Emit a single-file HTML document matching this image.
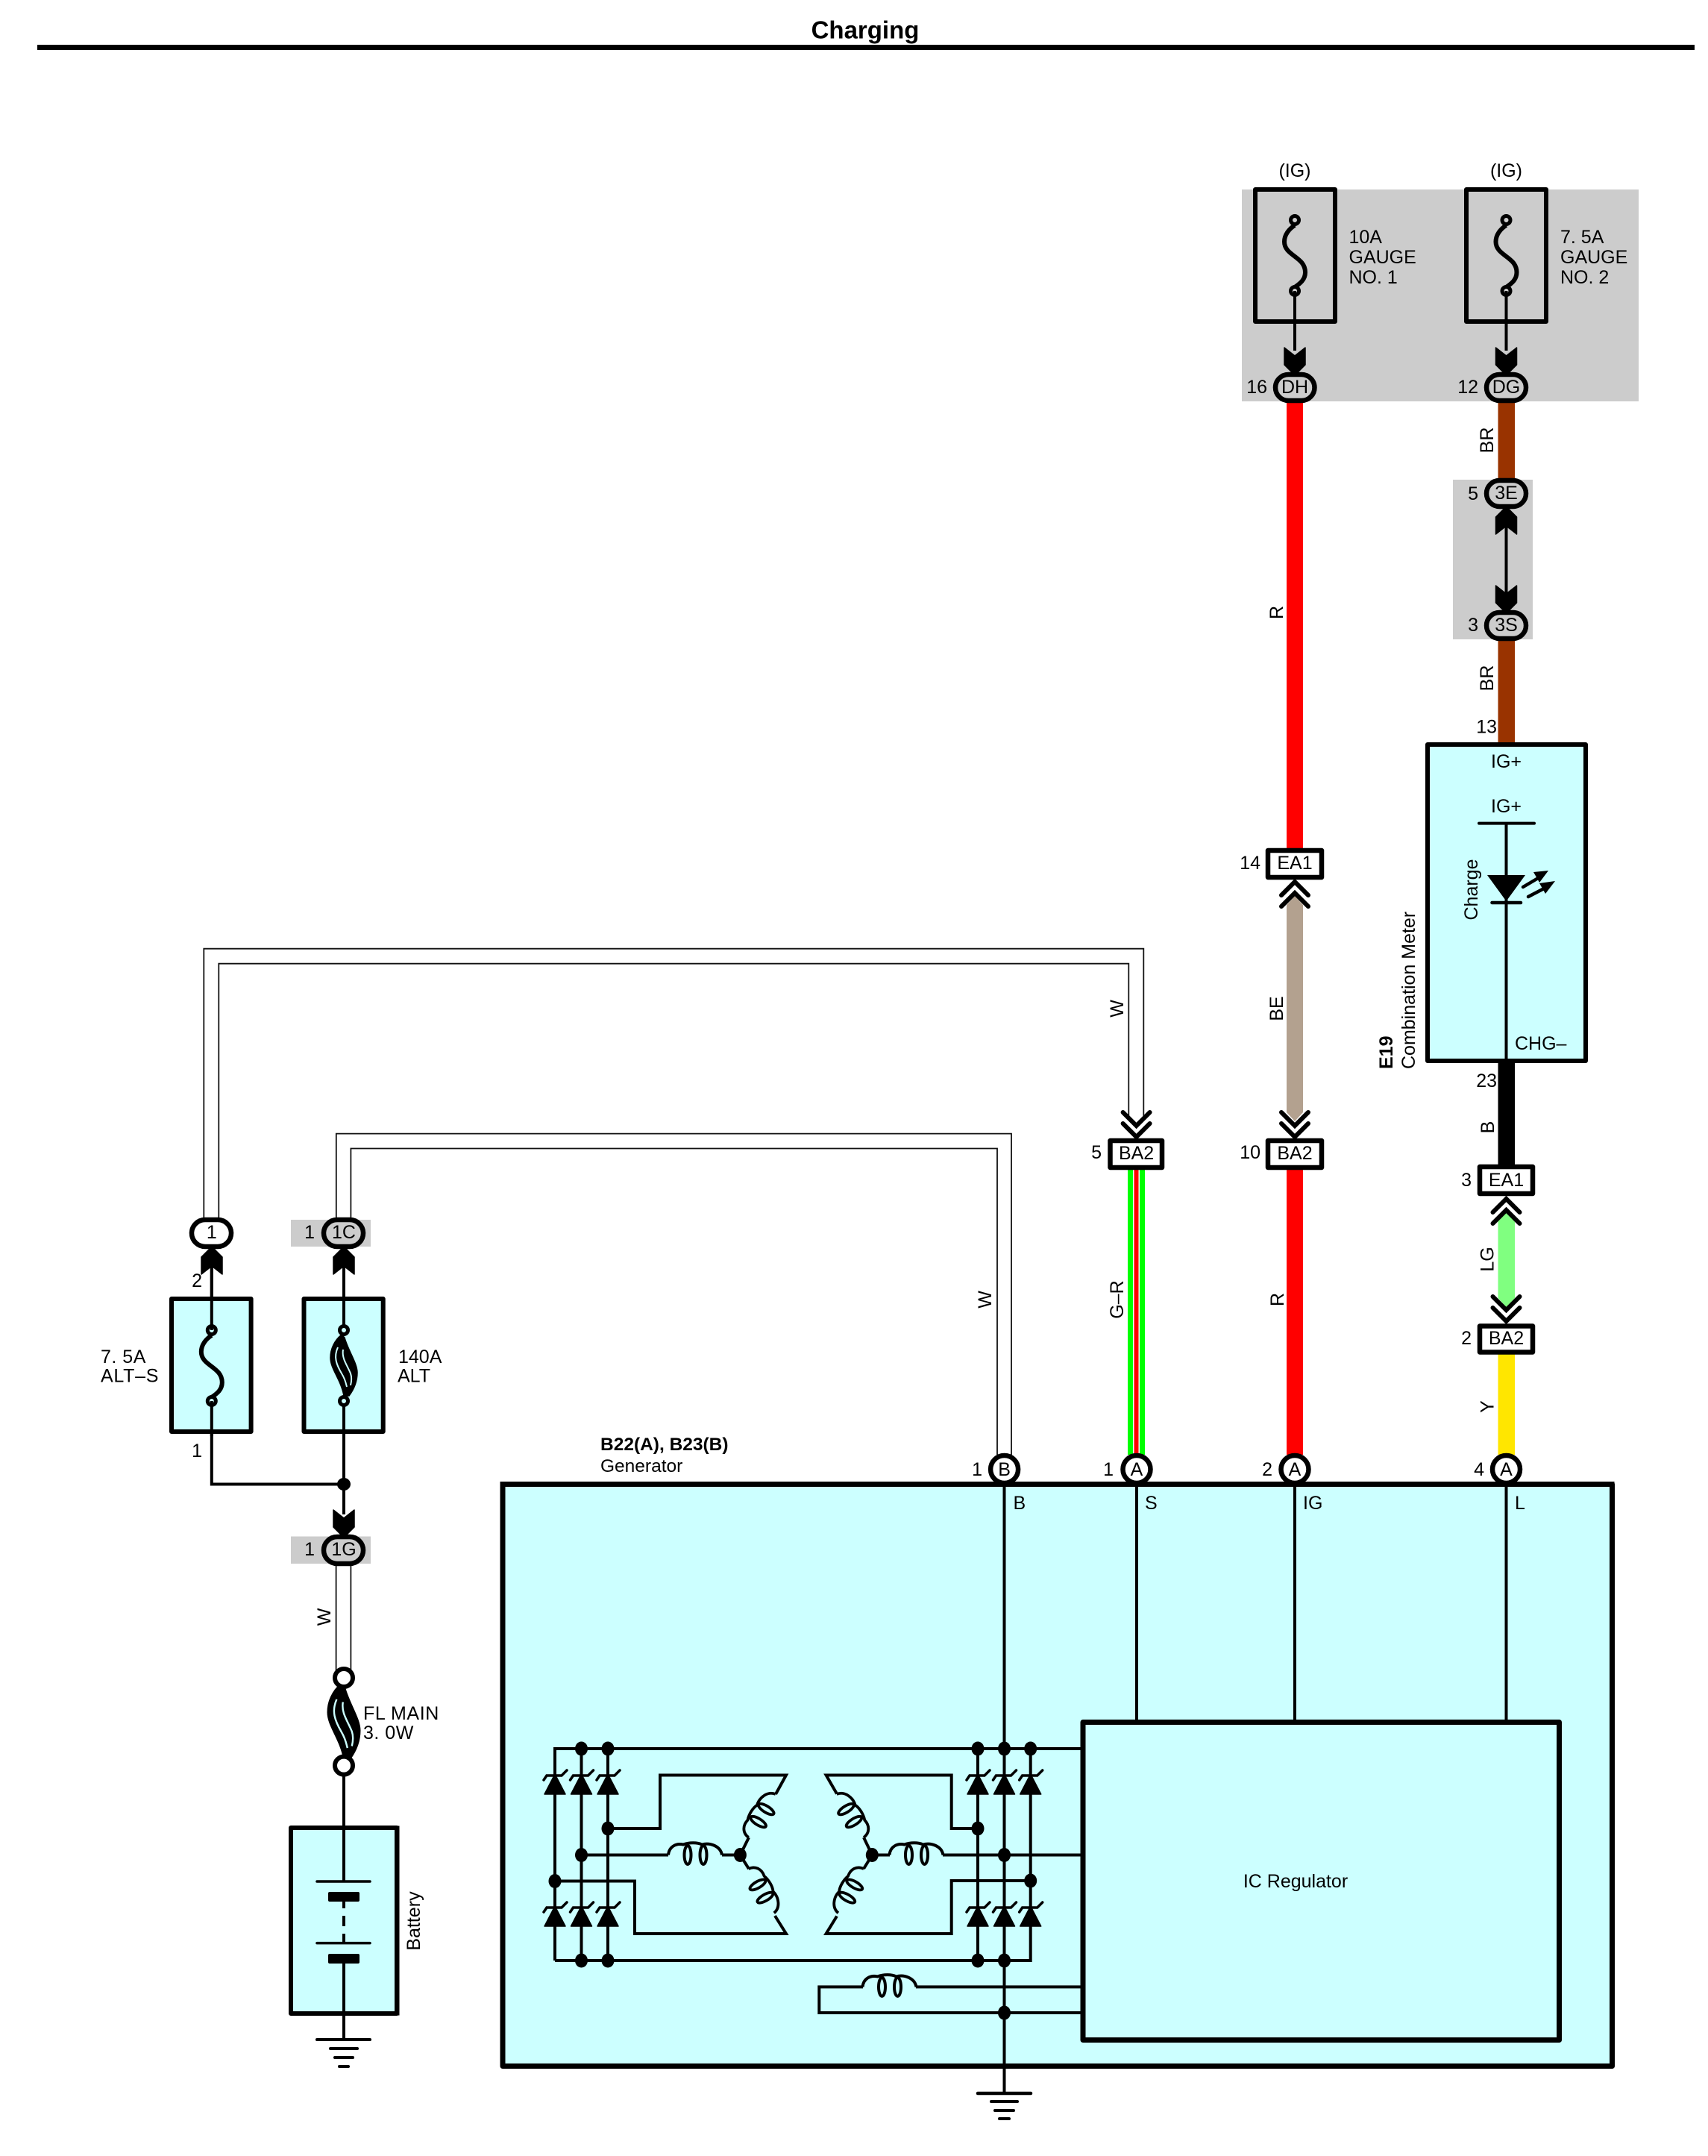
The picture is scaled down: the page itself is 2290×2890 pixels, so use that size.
<!DOCTYPE html>
<html><head><meta charset="utf-8"><title>Charging</title>
<style>html,body{margin:0;padding:0;background:#fff}svg{display:block}
text{font-family:"Liberation Sans",sans-serif;font-size:25px;fill:#000}
.m{text-anchor:middle}.e{text-anchor:end}.b{font-weight:bold}</style></head><body>
<svg xmlns="http://www.w3.org/2000/svg" width="2290" height="2890" viewBox="0 0 2290 2890">
<defs>
<polygon id="ah" points="-14,0 0,11 14,0 14,23 0,37 -14,23" fill="#000" stroke="#000" stroke-width="1.5" stroke-linejoin="round"/>
<g id="chev" fill="none" stroke="#000" stroke-width="6" stroke-linecap="round" stroke-linejoin="miter"><polyline points="-18,0 0,18 18,0"/><polyline points="-18,15 0,33 18,15"/></g>
<g id="diode"><polygon points="0,0 -14,27 14,27" fill="#000" stroke="#000" stroke-width="1.5" stroke-linejoin="round"/><polyline points="-15,8 -11,2 9,2 16,-5" fill="none" stroke="#000" stroke-width="3.5" stroke-linecap="round"/></g>
<g id="coil" fill="none" stroke="#000" stroke-width="4"><path d="M0 0C1 -11 10 -16 20 -14C28 -17 39 -17 45 -14C56 -17 70 -12 72 0"/><ellipse cx="26" cy="0" rx="4.5" ry="12.5"/><ellipse cx="47" cy="0" rx="4.5" ry="12.5"/></g>
<g id="fuse" fill="none" stroke="#000"><path d="M0 7C-8 12 -14 20 -14 29C-14 48 14 49 14 70C14 80 7 85 0 90" stroke-width="6"/><ellipse cx="0" cy="0" rx="5.5" ry="5.5" stroke-width="5"/><ellipse cx="0" cy="95" rx="5.5" ry="5.5" stroke-width="5"/></g>
<g id="fat"><path d="M-3 6C-13 14 -18 26 -18 37C-18 52 -4 66 0 88L7 88C13 80 18 70 18 57C18 44 6 28 1 10Z" fill="#000" stroke="#000" stroke-width="1.5"/><path d="M-8 23C-14 36 -10 46 -3 58C2 66 3 72 4 76M-1 26C-3 38 4 46 9 58C11 64 10 70 9 74" fill="none" stroke="#ccffff" stroke-width="2"/></g>
<g id="dot"><ellipse cx="0" cy="0" rx="8.5" ry="9.5" fill="#000"/></g>
</defs>
<rect width="2290" height="2890" fill="#fff"/>
<text class="m b" x="1160" y="51.5" style="font-size:33px">Charging</text>
<rect x="50" y="60" width="2222" height="7" fill="#000"/>

<!-- gray zones -->
<rect x="1665" y="254" width="532" height="284" fill="#ccc"/>
<rect x="1948" y="643" width="107" height="214" fill="#ccc"/>
<rect x="390" y="1635" width="107" height="36" fill="#ccc"/>
<rect x="390" y="2059.5" width="107" height="36.5" fill="#ccc"/>

<!-- coloured wires -->
<rect x="1725" y="538" width="22" height="600" fill="#f00"/>
<rect x="1725" y="1566" width="22" height="384" fill="#f00"/>
<rect x="2008.5" y="538" width="22.5" height="105" fill="#930"/>
<rect x="2008.5" y="857" width="22.5" height="140" fill="#930"/>
<rect x="2008.5" y="1424" width="22.5" height="138" fill="#000"/>
<polygon points="1725,1213 1736,1201 1747,1213 1747,1491 1736,1503 1725,1491" fill="#b3a18f"/>
<polygon points="2008.5,1637 2019.5,1625 2031,1637 2031,1740 2019.5,1752 2008.5,1740" fill="#80ff80"/>
<rect x="2008.5" y="1814" width="22.5" height="136" fill="#ffe600"/>
<rect x="1512" y="1566" width="7" height="384" fill="#0f0"/>
<rect x="1528" y="1566" width="7" height="384" fill="#0f0"/>
<rect x="1520.5" y="1566" width="6" height="384" fill="#f00"/>

<!-- white wires -->
<g fill="none" stroke="#111" stroke-width="1.8">
<path d="M273.3 1634V1271.7H1533.3V1497"/><path d="M293.3 1634V1291.7H1513.3V1497"/>
<path d="M450.8 1634V1519.6H1356V1950"/><path d="M470.4 1634V1539.5H1337V1950"/>
<path d="M450.6 2098V2240"/><path d="M470.4 2098V2240"/>
</g>

<!-- black thin wires -->
<g fill="none" stroke="#000" stroke-width="4">
<path d="M1736 390V470"/><path d="M2019.5 390V470"/>
<path d="M2019.5 682V818"/>
<path d="M283.8 1676V1783"/><path d="M461 1676V1783"/>
<path d="M283.8 1878V1989.5H461"/><path d="M461 1878V2030"/>
<path d="M461 2378V2522"/>
</g>

<!-- fuse boxes grey -->
<g fill="none" stroke="#000" stroke-width="6" stroke-linejoin="round">
<rect x="1683" y="254" width="107" height="177"/><rect x="1966" y="254" width="107" height="177"/>
<rect x="230" y="1741" width="106.6" height="178" fill="#ccffff"/>
<rect x="407.5" y="1741" width="106.2" height="178" fill="#ccffff"/>
</g>
<g fill="none" stroke="#000" stroke-width="4"><path d="M283.8 1676V1783"/><path d="M461 1676V1783"/><path d="M283.8 1878V1925"/><path d="M461 1878V1925"/></g>
<use href="#fuse" x="1736" y="295"/><use href="#fuse" x="2019.5" y="295"/>
<use href="#fuse" x="283.8" y="1783"/>
<use href="#fat" x="461" y="1783"/>
<g fill="#ccffff" stroke="#000" stroke-width="5"><circle cx="461" cy="1783" r="5.5"/><circle cx="461" cy="1878" r="5.5"/></g>

<!-- arrows -->
<use href="#ah" transform="translate(1736,466)"/><use href="#ah" transform="translate(2019.5,466)"/>
<use href="#ah" transform="translate(2019.5,716) scale(1,-1)"/><use href="#ah" transform="translate(2019.5,785)"/>
<use href="#ah" transform="translate(284,1708) scale(1,-1)"/><use href="#ah" transform="translate(461,1708) scale(1,-1)"/>
<use href="#ah" transform="translate(461,2024)"/>

<!-- chevrons -->
<use href="#chev" transform="translate(1736,1491)"/>
<use href="#chev" transform="translate(1523.6,1491)"/>
<use href="#chev" transform="translate(2019.5,1738)"/>
<use href="#chev" transform="translate(1736,1215) scale(1,-1)"/>
<use href="#chev" transform="translate(2019.5,1640) scale(1,-1)"/>

<!-- pills -->
<g stroke="#000" stroke-width="6.5">
<rect x="1710" y="502" width="52.5" height="35" rx="17.5" fill="#ccc"/>
<rect x="1993" y="502" width="53" height="35" rx="17.5" fill="#ccc"/>
<rect x="1993" y="644" width="53" height="35" rx="17.5" fill="#ccc"/>
<rect x="1993" y="821" width="53" height="35" rx="17.5" fill="#ccc"/>
<rect x="257" y="1635" width="53" height="36" rx="18" fill="#fff"/>
<rect x="434" y="1635" width="53" height="36" rx="18" fill="#ccc"/>
<rect x="434" y="2060" width="53" height="36" rx="18" fill="#ccc"/>
<!-- rect connectors -->
<rect x="1700" y="1140" width="72" height="36" fill="#fff" stroke-linejoin="round"/>
<rect x="1700" y="1529" width="72" height="36" fill="#fff" stroke-linejoin="round"/>
<rect x="1488.5" y="1529" width="69.5" height="36" fill="#fff" stroke-linejoin="round"/>
<rect x="1984" y="1564" width="71" height="36" fill="#fff" stroke-linejoin="round"/>
<rect x="1984" y="1777.5" width="71" height="35" fill="#fff" stroke-linejoin="round"/>
</g>

<!-- combination meter -->
<rect x="1914" y="998" width="212" height="424" fill="#ccffff" stroke="#000" stroke-width="6" stroke-linejoin="round"/>
<g fill="none" stroke="#000" stroke-width="4"><path d="M1983 1103.6H2057" stroke-linecap="round"/><path d="M2019.5 1103.6V1426"/><path d="M2000.5 1210H2039" stroke-linecap="round" stroke-width="4.5"/></g>
<polygon points="1994,1173 2045,1173 2019.5,1208" fill="#000"/>
<g stroke="#000" stroke-width="4.5" stroke-linecap="round"><path d="M2042 1189L2064 1176"/><path d="M2049 1202L2072 1190"/></g>
<polygon points="2076,1167 2056,1169 2064,1183" fill="#000"/><polygon points="2085,1181 2064,1184 2072,1198" fill="#000"/>

<!-- generator -->
<rect x="674" y="1989.5" width="1487.5" height="780" fill="#ccffff" stroke="#000" stroke-width="7" stroke-linejoin="round"/>
<g fill="none" stroke="#000" stroke-width="4">
<path d="M1346.5 1949V2806"/><path d="M1524 1949V2308"/><path d="M1736 1949V2308"/><path d="M2019.5 1949V2308"/>
<path d="M744 2628V2344H1452"/><path d="M744 2628H1381.7V2344"/><path d="M779.5 2344V2628"/><path d="M815 2344V2628"/><path d="M1311 2344V2628"/>
<path d="M815 2451H885V2379.5H1054L1040 2405"/>
<path d="M744 2521.5H851V2592H1054L1039 2568"/>
<path d="M779.5 2486.5H896"/><path d="M968 2486.5H992.4L1004 2463"/><path d="M992.4 2486.5L1004 2505"/>
<path d="M1311 2451H1275.7V2379.5H1107.6L1122 2404.5"/>
<path d="M1381.7 2521H1275.7V2592H1107.6L1122 2568.5"/>
<path d="M1452 2486.5H1264"/><path d="M1193 2486.5H1169.3L1158 2463"/><path d="M1169.3 2486.5L1158 2505"/>
<path d="M1452 2663.4H1228"/><path d="M1157 2663.4H1098.3V2698H1452"/>
</g>
<use href="#coil" transform="translate(896,2486.5)"/>
<use href="#coil" transform="translate(1192.5,2486.5)"/>
<use href="#coil" transform="translate(1156.5,2663.4)"/>
<use href="#coil" transform="translate(1003.6,2463) rotate(-58) scale(.95)"/>
<use href="#coil" transform="translate(1003.6,2505) rotate(60) scale(.95)"/>
<use href="#coil" transform="translate(1158.1,2463) scale(-1,1) rotate(-58) scale(.95)"/>
<use href="#coil" transform="translate(1158.1,2505) scale(-1,1) rotate(60) scale(.95)"/>
<g>
<use href="#diode" x="744" y="2378"/><use href="#diode" x="779.5" y="2378"/><use href="#diode" x="815" y="2378"/>
<use href="#diode" x="1311" y="2378"/><use href="#diode" x="1346.5" y="2378"/><use href="#diode" x="1381.7" y="2378"/>
<use href="#diode" x="744" y="2555"/><use href="#diode" x="779.5" y="2555"/><use href="#diode" x="815" y="2555"/>
<use href="#diode" x="1311" y="2555"/><use href="#diode" x="1346.5" y="2555"/><use href="#diode" x="1381.7" y="2555"/>
</g>
<use href="#dot" x="779.5" y="2344"/><use href="#dot" x="815" y="2344"/><use href="#dot" x="1311" y="2344"/><use href="#dot" x="1346.5" y="2344"/><use href="#dot" x="1381.7" y="2344"/>
<use href="#dot" x="779.5" y="2628"/><use href="#dot" x="815" y="2628"/><use href="#dot" x="1311" y="2628"/><use href="#dot" x="1346.5" y="2628"/>
<use href="#dot" x="815" y="2451"/><use href="#dot" x="779.5" y="2486.5"/><use href="#dot" x="744" y="2521.5"/><use href="#dot" x="992.4" y="2486.5"/>
<use href="#dot" x="1311" y="2451"/><use href="#dot" x="1346.5" y="2486.5"/><use href="#dot" x="1381.7" y="2521"/><use href="#dot" x="1169.3" y="2486.5"/>
<use href="#dot" x="1346.5" y="2698"/>
<rect x="1452" y="2308.5" width="638.5" height="426" fill="#ccffff" stroke="#000" stroke-width="7" stroke-linejoin="round"/>
<!-- terminal circles -->
<g fill="#fff" stroke="#000" stroke-width="6.5"><circle cx="1346.6" cy="1969.5" r="18.5"/><circle cx="1524" cy="1969.5" r="18.5"/><circle cx="1736" cy="1969.5" r="18.5"/><circle cx="2019.5" cy="1969.5" r="18.5"/></g>
<rect x="670.5" y="1986" width="1494" height="7" fill="#000"/>
<!-- generator ground -->
<g stroke="#000" stroke-linecap="round"><path d="M1311 2806H1382" stroke-width="4.5"/><path d="M1329 2817H1364" stroke-width="4"/><path d="M1334 2829H1359" stroke-width="4"/><path d="M1340 2840H1353" stroke-width="4"/></g>
<ellipse cx="461" cy="1989.5" rx="9" ry="8.5" fill="#000"/>

<!-- FL main & battery -->
<use href="#fat" transform="translate(461,2308) scale(1.2,1.23) translate(-461,-1830.5) translate(461,1783)"/>
<g fill="#fff" stroke="#000" stroke-width="6"><circle cx="461" cy="2249" r="12"/><circle cx="461" cy="2366.6" r="12"/></g>
<rect x="390" y="2450" width="142" height="249" fill="#ccffff" stroke="#000" stroke-width="6" stroke-linejoin="round"/>
<rect x="531" y="2447.5" width="4.5" height="254" fill="#000"/>
<g stroke="#000" fill="none" stroke-width="4"><path d="M461 2378V2522"/><path d="M461 2549V2558M461 2568V2582M461 2592V2605"/><path d="M461 2632V2734"/></g>
<g stroke="#000" stroke-linecap="round"><path d="M425 2522H496" stroke-width="3.5"/><path d="M425 2604.6H496" stroke-width="3.5"/><path d="M425 2734H496" stroke-width="4"/><path d="M443 2746H479" stroke-width="4"/><path d="M449 2758H473" stroke-width="4"/><path d="M455 2770H467" stroke-width="4"/></g>
<rect x="440" y="2536" width="42" height="13" rx="2" fill="#000"/><rect x="440" y="2619" width="42" height="13" rx="2" fill="#000"/>

<!-- labels -->
<text class="m" x="1736" y="237">(IG)</text><text class="m" x="2019.5" y="237">(IG)</text>
<text x="1808.5" y="326">10A</text><text x="1808.5" y="353">GAUGE</text><text x="1808.5" y="380">NO. 1</text>
<text x="2092" y="326">7. 5A</text><text x="2092" y="353">GAUGE</text><text x="2092" y="380">NO. 2</text>
<text class="m" x="1736" y="527">DH</text><text class="m" x="2019.5" y="527">DG</text>
<text class="e" x="1699" y="527">16</text><text class="e" x="1982" y="527">12</text>
<text class="m" x="2019.5" y="669">3E</text><text class="m" x="2019.5" y="846">3S</text>
<text class="e" x="1982" y="670">5</text><text class="e" x="1982" y="846">3</text>
<text class="e" x="2007" y="982.5">13</text>
<text class="m" x="2019.5" y="1029">IG+</text><text class="m" x="2019.5" y="1089">IG+</text>
<text x="2031" y="1407">CHG–</text>
<text class="e" x="2007" y="1457">23</text>
<text class="m" x="1736" y="1165">EA1</text><text class="m" x="1736" y="1554">BA2</text>
<text class="m" x="1523.6" y="1554">BA2</text><text class="m" x="2019.5" y="1590">EA1</text><text class="m" x="2019.5" y="1802">BA2</text>
<text class="e" x="1690" y="1165">14</text><text class="e" x="1690" y="1553">10</text><text class="e" x="1477" y="1553">5</text>
<text class="e" x="1973" y="1590">3</text><text class="e" x="1973" y="1802">2</text>
<text class="m" x="1346.6" y="1978">B</text><text class="m" x="1524" y="1978">A</text><text class="m" x="1736" y="1978">A</text><text class="m" x="2019.5" y="1978">A</text>
<text class="e" x="1317" y="1978">1</text><text class="e" x="1493" y="1978">1</text><text class="e" x="1706" y="1978">2</text><text class="e" x="1990" y="1978">4</text>
<text x="1358.5" y="2023">B</text><text x="1535" y="2023">S</text><text x="1747" y="2023">IG</text><text x="2031" y="2023">L</text>
<text class="b" x="805" y="1944" style="font-size:24.5px">B22(A), B23(B)</text><text x="805" y="1973" style="font-size:24.5px">Generator</text>
<text class="m" x="1737" y="2530">IC Regulator</text>
<text class="m" x="283.8" y="1660">1</text><text class="m" x="461" y="1660">1C</text><text class="m" x="461" y="2085">1G</text>
<text class="e" x="422" y="1660">1</text><text class="e" x="422" y="2085">1</text>
<text class="e" x="271" y="1725">2</text><text class="e" x="271" y="1953">1</text>
<text x="135" y="1827" style="letter-spacing:.5px">7. 5A</text><text x="135" y="1852.5" style="letter-spacing:.7px">ALT–S</text>
<text x="534" y="1827">140A</text><text x="533" y="1852.5">ALT</text>
<text x="487" y="2305" style="letter-spacing:.6px">FL MAIN</text><text x="487" y="2331" style="letter-spacing:.5px">3. 0W</text>
<g>
<text class="m" transform="translate(2002,590) rotate(-90)">BR</text>
<text class="m" transform="translate(2002,909) rotate(-90)">BR</text>
<text class="m" transform="translate(1720,821) rotate(-90)">R</text>
<text class="m" transform="translate(1720,1352) rotate(-90)">BE</text>
<text class="m" transform="translate(1721,1742) rotate(-90)">R</text>
<text class="m" transform="translate(1506,1742) rotate(-90)">G–R</text>
<text class="m" transform="translate(1329,1742) rotate(-90)">W</text>
<text class="m" transform="translate(1506,1352) rotate(-90)">W</text>
<text class="m" transform="translate(443,2167.5) rotate(-90)">W</text>
<text class="m" transform="translate(2003,1511) rotate(-90)">B</text>
<text class="m" transform="translate(2002.5,1688) rotate(-90)">LG</text>
<text class="m" transform="translate(2002.5,1885.5) rotate(-90)">Y</text>
<text class="m" transform="translate(1981,1192.5) rotate(-90)">Charge</text>
<text transform="translate(1897,1433) rotate(-90)">Combination Meter</text>
<text class="b" transform="translate(1867,1433) rotate(-90)">E19</text>
<text class="m" transform="translate(563,2575) rotate(-90)">Battery</text>
</g>
</svg>
</body></html>
